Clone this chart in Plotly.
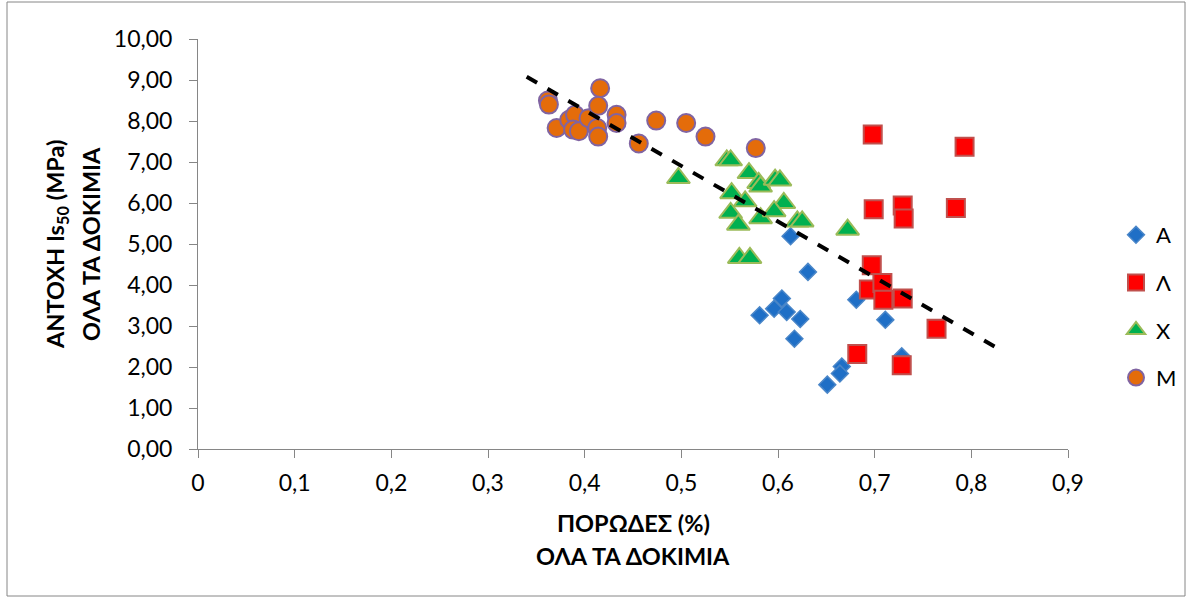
import plotly.graph_objects as go

# Porosity (fraction) and point-load strength Is50 (MPa) for each sample group
a_x = [0.631, 0.581, 0.596, 0.604, 0.609, 0.623, 0.617, 0.681, 0.711, 0.728, 0.666, 0.664, 0.651, 0.613]
a_y = [4.32, 3.26, 3.42, 3.67, 3.34, 3.17, 2.69, 3.64, 3.15, 2.26, 2.01, 1.84, 1.57, 5.19]

l_x = [0.698, 0.793, 0.699, 0.729, 0.730, 0.784, 0.697, 0.694, 0.708, 0.709, 0.729, 0.764, 0.682, 0.728]
l_y = [7.67, 7.37, 5.85, 5.94, 5.62, 5.88, 4.48, 3.89, 4.05, 3.64, 3.67, 2.93, 2.32, 2.04]

x_x = [0.497, 0.547, 0.551, 0.570, 0.580, 0.582, 0.597, 0.602, 0.552, 0.566, 0.606,
       0.551, 0.582, 0.596, 0.559, 0.620, 0.625, 0.560, 0.571, 0.672]
x_y = [6.61, 7.04, 7.04, 6.73, 6.49, 6.40, 6.57, 6.55, 6.24, 6.04, 6.00,
       5.76, 5.63, 5.80, 5.47, 5.55, 5.55, 4.66, 4.66, 5.35]

m_x = [0.362, 0.363, 0.416, 0.371, 0.384, 0.390, 0.388, 0.394, 0.404, 0.414,
       0.413, 0.414, 0.433, 0.433, 0.456, 0.474, 0.505, 0.525, 0.577]
m_y = [8.50, 8.40, 8.80, 7.83, 8.03, 8.15, 7.79, 7.75, 8.07, 8.37,
       7.83, 7.62, 8.15, 7.95, 7.45, 8.01, 7.95, 7.62, 7.34]

# Linear trend over all samples: Is50 = slope * n + intercept
trend_slope = -13.59
trend_intercept = 13.70
trend_range = [0.34, 0.83]

x_ticks = [0, 0.1, 0.2, 0.3, 0.4, 0.5, 0.6, 0.7, 0.8, 0.9]
y_ticks = [0, 1, 2, 3, 4, 5, 6, 7, 8, 9, 10]

FONT = "Lato"

fig = go.Figure()

fig.add_trace(go.Scatter(
    x=a_x, y=a_y, mode="markers", name="A", legendgroup="A",
    marker=dict(symbol="diamond", size=13, color="#1F6FC6",
                line=dict(color="#4A86C8", width=1.5)),
))
fig.add_trace(go.Scatter(
    x=l_x, y=l_y, mode="markers", name="Λ", legendgroup="L",
    marker=dict(symbol="square", size=18, color="#FF0000",
                line=dict(color="#C0504D", width=2)),
))
fig.add_trace(go.Scatter(
    x=x_x, y=x_y, mode="markers", name="Χ", legendgroup="X",
    marker=dict(symbol="triangle-up", size=20, color="#00B050",
                line=dict(color="#9BBB59", width=2)),
))
fig.add_trace(go.Scatter(
    x=m_x, y=m_y, mode="markers", name="Μ", legendgroup="M",
    marker=dict(symbol="circle", size=18, color="#E46C0A",
                line=dict(color="#8064A2", width=2)),
))

trend_y = [trend_slope * v + trend_intercept for v in trend_range]
fig.add_trace(go.Scatter(
    x=trend_range, y=trend_y, mode="lines", showlegend=False,
    line=dict(color="black", width=4, dash="dash"), hoverinfo="skip",
))

axis_common = dict(
    showgrid=False, zeroline=False, showline=True, linecolor="#868686", linewidth=1,
    ticks="outside", ticklen=8, tickcolor="#868686",
    tickfont=dict(family=FONT, size=23, color="black"),
)

fig.update_xaxes(range=[0, 0.9], tickvals=x_ticks, ticklabelstandoff=5, **axis_common)
fig.update_yaxes(range=[0, 10], tickvals=y_ticks, tickformat=".2f",
                 ticklabelstandoff=12, **axis_common)

title_font = dict(family=FONT, size=23.5, color="black", weight="bold")
annotations = [
    dict(text="ΠΟΡΩΔΕΣ (%)", x=0.5, y=523, xref="paper", yref="paper", showarrow=False),
    dict(text="ΟΛΑ ΤΑ ΔΟΚΙΜΙΑ", x=0.5, y=556, xref="paper", yref="paper", showarrow=False),
    dict(text="ΑΝΤΟΧΗ Is<sub>50</sub> (MPa)", x=57, y=244, textangle=-90, showarrow=False),
    dict(text="ΟΛΑ ΤΑ ΔΟΚΙΜΙΑ", x=91, y=244, textangle=-90, showarrow=False),
]

# Plot area in pixels: x 198..1068, y 39..449
L, R, T, B = 198, 1068, 39, 449
W, H = 1192, 601


def px_to_paper(px, py):
    return (px - L) / (R - L), (B - py) / (B - T)


ann_out = []
for a in annotations:
    if a.get("xref") == "paper":
        _, yy = px_to_paper(0, a["y"])
        a["y"] = yy
    else:
        xx, yy = px_to_paper(a["x"], a["y"])
        a["x"], a["y"] = xx, yy
        a["xref"], a["yref"] = "paper", "paper"
    a["font"] = title_font
    a["xanchor"] = "center"
    a["yanchor"] = "middle"
    ann_out.append(a)

bx0, by0 = px_to_paper(7, 596)
bx1, by1 = px_to_paper(1185, 2)

fig.update_layout(
    width=W, height=H,
    margin=dict(l=L, r=W - R, t=T, b=H - B, autoexpand=False),
    plot_bgcolor="white", paper_bgcolor="white",
    separators=",.",
    annotations=ann_out,
    legend=dict(x=px_to_paper(1116, 0)[0], y=px_to_paper(0, 214)[1],
                xanchor="left", yanchor="top",
                font=dict(family=FONT, size=22, color="black"),
                itemsizing="trace", traceorder="grouped", tracegroupgap=16,
                bgcolor="rgba(0,0,0,0)"),
    shapes=[dict(type="rect", xref="paper", yref="paper",
                 x0=bx0, y0=by0, x1=bx1, y1=by1,
                 line=dict(color="#868686", width=1), layer="below")],
    showlegend=True,
)

fig.write_html("out.html")
